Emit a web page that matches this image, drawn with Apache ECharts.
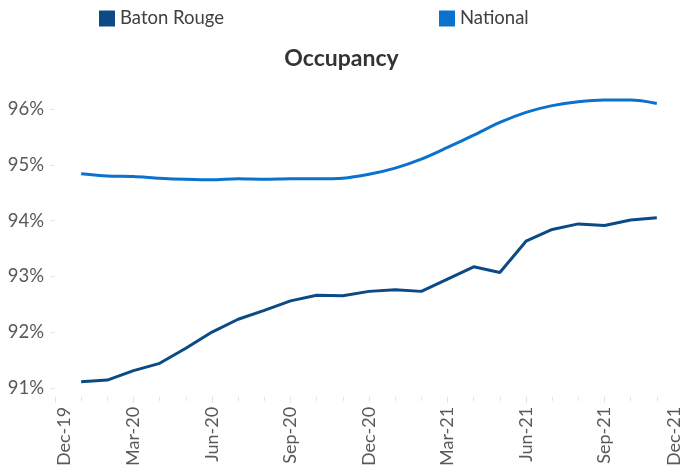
<!DOCTYPE html>
<html>
<head>
<meta charset="utf-8">
<script src="https://cdn.jsdelivr.net/npm/echarts@6/dist/echarts.min.js"></script>
<style>html,body{margin:0;padding:0;background:#fff;}#c{width:683px;height:469px;}</style>
</head>
<body>
<div id="c"></div>
<script>
var months = ['Dec-19','Jan-20','Feb-20','Mar-20','Apr-20','May-20','Jun-20','Jul-20','Aug-20','Sep-20','Oct-20','Nov-20','Dec-20','Jan-21','Feb-21','Mar-21','Apr-21','May-21','Jun-21','Jul-21','Aug-21','Sep-21','Oct-21','Nov-21','Dec-21'];
var batonRouge = [null, 91.11, 91.14, 91.31, 91.44, 91.71, 92.00, 92.23, 92.39, 92.56, 92.66, 92.65, 92.73, 92.76, 92.73, 92.95, 93.17, 93.07, 93.63, 93.84, 93.94, 93.91, 94.01, 94.05, null];
var national = [null, 94.84, 94.80, 94.79, 94.76, 94.74, 94.73, 94.75, 94.74, 94.75, 94.75, 94.76, 94.83, 94.94, 95.10, 95.31, 95.53, 95.76, 95.94, 96.06, 96.13, 96.16, 96.16, 96.10, null];
var yTicks = [91, 92, 93, 94, 95, 96];

var FONT = 'Lato, "Open Sans", sans-serif';
var chart = echarts.init(document.getElementById('c'), null, {renderer: 'canvas'});
chart.setOption({
  animation: false,
  textStyle: {fontFamily: FONT},
  title: {
    text: 'Occupancy', left: 'center', top: 47, padding: 0,
    textStyle: {fontSize: 23, fontWeight: 'bold', color: '#333333', fontFamily: FONT}
  },
  legend: [
    {data: ['Baton Rouge'], left: 99, top: 9, padding: 0, icon: 'rect', itemWidth: 16, itemHeight: 16, itemGap: 6,
     textStyle: {fontSize: 18.5, color: '#404040', fontFamily: FONT}},
    {data: ['National'], left: 439, top: 9, padding: 0, icon: 'rect', itemWidth: 16, itemHeight: 16, itemGap: 6,
     textStyle: {fontSize: 18.5, color: '#404040', fontFamily: FONT}}
  ],
  grid: {left: 55, right: -3, top: 109, bottom: 81, containLabel: false},
  xAxis: [{
    type: 'category', data: months, boundaryGap: false, offset: 9,
    axisLine: {show: false},
    axisTick: {show: true, interval: 0, length: 4, lineStyle: {color: '#e3e3e3'}},
    axisLabel: {interval: 2, rotate: 90, margin: 10, fontSize: 18, color: '#595959', fontFamily: FONT,
      verticalAlignMinLabel: 'top', verticalAlignMaxLabel: 'bottom'}
  }, {
    type: 'category', data: months, boundaryGap: false, offset: 9, position: 'bottom',
    axisLine: {show: false},
    axisTick: {show: true, interval: 2, length: 6, lineStyle: {color: '#e3e3e3'}},
    axisLabel: {show: false}
  }],
  yAxis: {
    type: 'value', min: yTicks[0], max: yTicks[yTicks.length - 1], interval: 1,
    axisLine: {show: false},
    axisTick: {show: true, length: 5, lineStyle: {color: '#e3e3e3'}},
    splitLine: {show: false},
    axisLabel: {margin: 11, fontSize: 18.5, color: '#595959', fontFamily: FONT,
      formatter: function (v) { return v + '%'; }}
  },
  series: [{
    name: 'Baton Rouge', type: 'line', data: batonRouge, xAxisIndex: 0,
    showSymbol: false, symbol: 'none', clip: false,
    lineStyle: {width: 3, color: '#0B4A84'}, itemStyle: {color: '#0B4A84'}
  }, {
    name: 'National', type: 'line', data: national, xAxisIndex: 0,
    showSymbol: false, symbol: 'none', clip: false, smooth: 0.3,
    lineStyle: {width: 3, color: '#0A72CC'}, itemStyle: {color: '#0A72CC'}
  }]
});
</script>
</body>
</html>
